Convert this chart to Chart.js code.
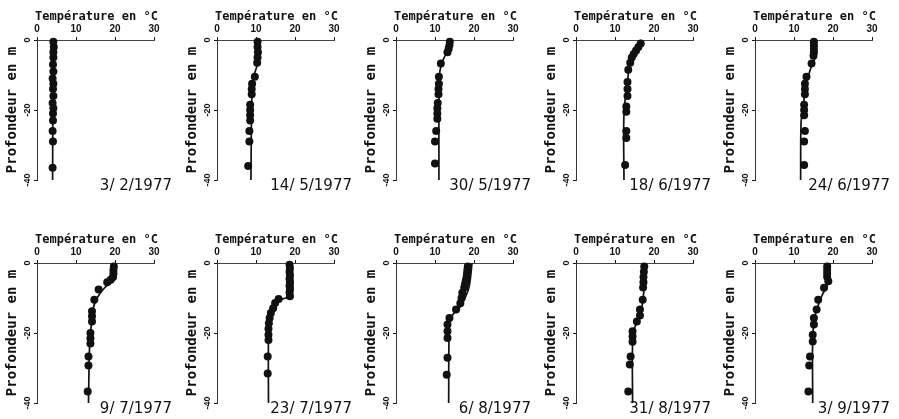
<!DOCTYPE html>
<html>
<head>
<meta charset="utf-8">
<script src="https://cdn.jsdelivr.net/npm/chart.js@4.4.0/dist/chart.umd.min.js"></script>
<style>
  body { margin: 0; background: #fff; }
  #wrap { position: relative; width: 899px; height: 419px; overflow: hidden; background: #fff; }
  #wrap canvas { position: absolute; }
</style>
</head>
<body>
<div id="wrap"></div>
<script>
// one profile per sampling date, depth in m (positive down), temperature in °C
const dates = ['3/ 2/1977', '14/ 5/1977', '30/ 5/1977', '18/ 6/1977', '24/ 6/1977',
               '9/ 7/1977', '23/ 7/1977', '6/ 8/1977', '31/ 8/1977', '3/ 9/1977'];

const dotDepths = [
  [0.5, 2, 3.5, 5, 7, 9, 11, 12.5, 14, 16, 18, 19.5, 21, 23, 26, 29, 36.5],
  [0.5, 2, 3.5, 5, 6.5, 10.5, 12.5, 14, 15.5, 18.5, 20, 21.5, 23, 26, 29, 36],
  [0.5, 1.5, 2.5, 3.5, 6.7, 10.5, 12.5, 14, 15.5, 18, 19.5, 21, 22.5, 26, 29, 35.3],
  [1, 2, 3, 4, 5, 6.5, 8.5, 12, 14, 16, 19, 20.5, 26, 28, 35.7],
  [0.5, 1.5, 2.5, 3.5, 4.5, 6.7, 10.5, 12.5, 14, 15.5, 18.5, 20, 21.5, 26, 29, 35.7],
  [1, 2, 3, 4, 4.8, 5.5, 7.6, 10.5, 13.8, 15.2, 16.7, 20, 21.5, 23, 26.7, 29.3, 36.7],
  [0.5, 1.5, 2.5, 3.5, 4.5, 5.5, 6.5, 7.5, 8.5, 9.5, 10.3, 11.4, 12.9, 14.3, 15.7, 17.2, 18.8, 20.5, 22, 26.7, 31.6],
  [1, 2, 3, 4, 5, 6, 7, 8.5, 10, 11.5, 13.3, 15.7, 17.6, 19.5, 21.4, 27.1, 31.9],
  [1, 2.5, 4, 5.5, 7, 10.5, 13.3, 15, 16.7, 19.5, 21, 22.5, 26.7, 29, 36.7],
  [1, 2, 3, 4, 5.2, 7.1, 10.5, 13.3, 15.7, 17.6, 20.5, 22.4, 26.7, 29.3, 36.7]
];
const dotTemps = [
  [4.2, 4.3, 4.2, 4.2, 4.1, 4.2, 4.0, 4.2, 4.1, 4.2, 4.0, 4.2, 4.1, 4.1, 4.0, 4.1, 4.0],
  [10.4, 10.4, 10.5, 10.4, 10.3, 9.7, 9.0, 8.9, 8.9, 8.5, 8.5, 8.5, 8.5, 8.3, 8.3, 8.0],
  [13.8, 13.7, 13.5, 13.2, 11.5, 11.0, 11.0, 10.9, 10.9, 10.7, 10.6, 10.6, 10.6, 10.3, 10.0, 10.0],
  [16.6, 16.0, 15.4, 14.8, 14.3, 13.9, 13.4, 13.2, 13.2, 13.2, 12.9, 12.9, 12.9, 12.9, 12.6],
  [15.1, 15.1, 15.1, 15.1, 15.0, 14.5, 13.2, 12.8, 12.8, 12.8, 12.6, 12.6, 12.6, 12.8, 12.6, 12.6],
  [19.7, 19.6, 19.6, 19.5, 18.9, 18.0, 15.8, 14.7, 14.1, 14.1, 14.1, 13.7, 13.7, 13.7, 13.2, 13.2, 13.0],
  [18.6, 18.7, 18.6, 18.7, 18.6, 18.7, 18.6, 18.7, 18.6, 18.7, 15.8, 14.9, 14.4, 13.8, 13.5, 13.3, 13.2, 13.2, 13.2, 13.0, 13.0],
  [18.4, 18.3, 18.2, 18.1, 17.9, 17.7, 17.5, 17.0, 16.8, 16.5, 15.4, 13.7, 13.2, 13.2, 13.2, 13.2, 13.0],
  [17.5, 17.4, 17.3, 17.3, 17.2, 17.1, 16.4, 16.4, 15.6, 14.5, 14.5, 14.5, 14.0, 13.8, 13.4],
  [18.5, 18.5, 18.5, 18.5, 18.8, 17.7, 16.2, 15.8, 15.1, 15.1, 14.8, 14.8, 14.1, 13.9, 13.7]
];

const lineDepths = [
  [0, 40],
  [0, 7, 10, 13, 40],
  [0, 2, 4.5, 7, 11, 40],
  [0, 3, 7, 12, 21, 40],
  [0, 5, 8, 12, 20, 24, 40],
  [0, 4.5, 7, 10, 13, 18, 23, 40],
  [0, 9.3, 10.2, 11.2, 13.3, 17, 21, 40],
  [0, 6.5, 9.5, 12.5, 15, 17.5, 40],
  [0, 8, 13, 17, 20, 40],
  [0, 5, 9.5, 15, 21, 40]
];
const lineTemps = [
  [4.1, 4.0],
  [10.4, 10.3, 9.5, 9.0, 8.7],
  [13.9, 13.7, 12.6, 11.6, 11.1, 11.0],
  [16.8, 15.2, 13.8, 13.2, 12.3, 12.3],
  [15.5, 15.4, 14.3, 13.3, 12.2, 11.8, 11.7],
  [20.1, 20.0, 17.4, 15.4, 14.4, 13.9, 13.5, 13.2],
  [19.2, 19.2, 17.0, 15.4, 14.1, 13.5, 13.2, 13.2],
  [19.5, 18.8, 17.9, 16.5, 14.4, 13.7, 13.5],
  [17.7, 17.4, 16.8, 15.6, 14.6, 14.5],
  [19.2, 19.0, 17.1, 15.4, 14.8, 14.8]
];

const tempRange = [0, 30];
const depthRange = [-40, 0];
const xTitle = 'Température en °C';
const yTitle = 'Profondeur en m';

const ink = '#111';

// x title above the axis (wider than the plot, so not the scale title)
// and date under the bottom right corner
const panelText = {
  id: 'panelText',
  afterDraw(chart, args, opts) {
    const { ctx, chartArea } = chart;
    ctx.save();
    ctx.fillStyle = ink;
    ctx.textBaseline = 'middle';
    ctx.textAlign = 'center';
    ctx.font = 'bold 12px "DejaVu Sans Mono"';
    ctx.fillText(xTitle, (chartArea.left + chartArea.right) / 2 + 1, chartArea.top - 23);
    ctx.textAlign = 'right';
    ctx.font = '15px "DejaVu Sans"';
    ctx.fillText(opts.date, chartArea.right + 18, chartArea.bottom + 6);
    ctx.restore();
  }
};

const toPoints = (depths, temps) => depths.map((d, i) => ({ x: temps[i], y: -d }));

const wrap = document.getElementById('wrap');

dates.forEach((date, i) => {
  const col = i % 5, row = Math.floor(i / 5);
  const canvas = document.createElement('canvas');
  canvas.width = 180;
  canvas.height = 196;
  canvas.style.left = Math.round(col * 179.5) + 'px';
  canvas.style.top = (row * 223) + 'px';
  wrap.appendChild(canvas);

  new Chart(canvas, {
    type: 'scatter',
    data: {
      datasets: [
        {
          data: toPoints(lineDepths[i], lineTemps[i]),
          showLine: true,
          borderColor: ink,
          borderWidth: 1.7,
          tension: 0.35,
          pointRadius: 0,
          clip: false
        },
        {
          data: toPoints(dotDepths[i], dotTemps[i]),
          showLine: false,
          pointRadius: 4,
          pointBackgroundColor: ink,
          pointBorderWidth: 0,
          clip: false
        }
      ]
    },
    options: {
      responsive: false,
      animation: false,
      events: [],
      layout: { padding: { left: 0, right: 26, top: 0, bottom: 16 } },
      plugins: {
        legend: { display: false },
        tooltip: { enabled: false },
        panelText: { date: date }
      },
      scales: {
        x: {
          type: 'linear',
          position: 'top',
          min: tempRange[0],
          max: tempRange[1],
          ticks: { stepSize: 10, color: ink, padding: 2, font: { family: 'Liberation Sans', size: 10, weight: 'bold' } },
          grid: { drawOnChartArea: false, tickLength: 3, color: ink },
          border: { color: '#444', width: 1 },
          afterFit: s => { s.height = 40; }
        },
        y: {
          type: 'linear',
          min: depthRange[0],
          max: depthRange[1],
          ticks: {
            stepSize: 20, minRotation: 90, maxRotation: 90, crossAlign: 'center', padding: 0,
            color: ink, font: { family: 'Liberation Sans', size: 9, weight: 'bold' }
          },
          grid: { drawOnChartArea: false, tickLength: 3, color: ink },
          border: { color: '#333', width: 1, dash: [7, 3] },
          title: {
            display: true,
            text: yTitle,
            color: ink,
            padding: { top: 4, bottom: 0 },
            font: { family: 'DejaVu Sans Mono', size: 14, weight: 'bold' }
          },
          afterFit: s => { s.width = 37; }
        }
      }
    },
    plugins: [panelText]
  });
});
</script>
</body>
</html>
